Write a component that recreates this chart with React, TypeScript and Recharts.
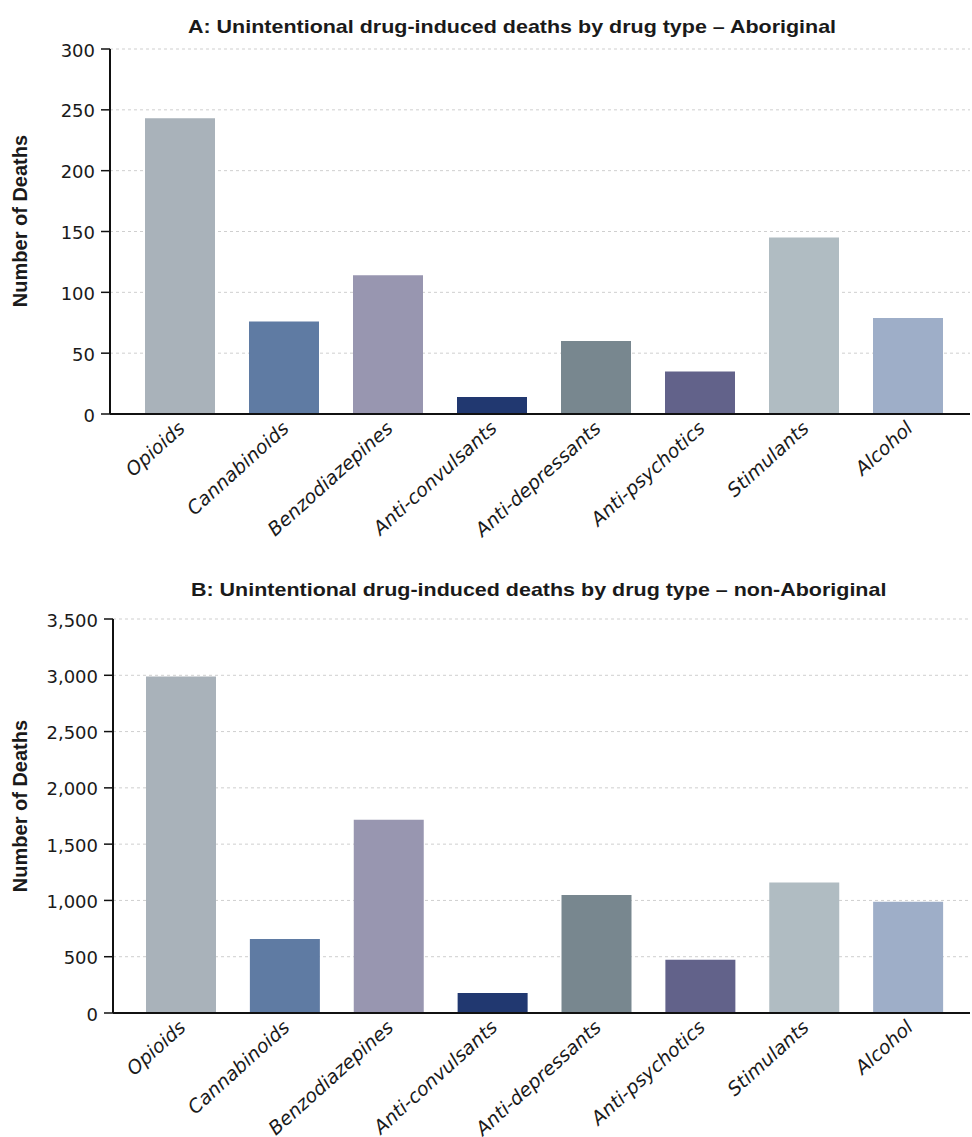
import { Bar, BarChart, CartesianGrid, Cell, XAxis, YAxis } from 'recharts'

const categories = [
  'Opioids',
  'Cannabinoids',
  'Benzodiazepines',
  'Anti-convulsants',
  'Anti-depressants',
  'Anti-psychotics',
  'Stimulants',
  'Alcohol',
]
const aboriginalDeaths = [243, 76, 114, 14, 60, 35, 145, 79]
const nonAboriginalDeaths = [2990, 657, 1717, 178, 1048, 474, 1160, 989]
const barColors = ['#a9b2ba', '#5f7ba3', '#9896b0', '#213870', '#78878f', '#62628a', '#b0bcc2', '#9eaec8']
const ticksA = [0, 50, 100, 150, 200, 250, 300]
const ticksB = [0, 500, 1000, 1500, 2000, 2500, 3000, 3500]

const titleA = 'A: Unintentional drug-induced deaths by drug type – Aboriginal'
const titleB = 'B: Unintentional drug-induced deaths by drug type – non-Aboriginal'

const tickFont = '"DejaVu Sans", sans-serif'
const boldFont = '"Liberation Sans", Arial, sans-serif'

function YTick({ x, y, payload }: any) {
  return (
    <text x={x} y={y} dy={1} textAnchor="end" dominantBaseline="central" fontFamily={tickFont} fontSize={18} fill="#1a1a1a">
      {Number(payload.value).toLocaleString('en-US')}
    </text>
  )
}

function XTick({ x, y, payload }: any) {
  return (
    <g transform={`translate(${x + 6},${y + 14})`}>
      <text textAnchor="end" transform="rotate(-42)" fontStyle="italic" fontFamily={tickFont} fontSize={19} fill="#1a1a1a">
        {payload.value}
      </text>
    </g>
  )
}

function AxisTitle({ cx, cy }: { cx: number; cy: number }) {
  return (
    <text
      x={cx}
      y={cy}
      transform={`rotate(-90 ${cx} ${cy})`}
      textAnchor="middle"
      dominantBaseline="central"
      fontFamily={boldFont}
      fontWeight="bold"
      fontSize={20}
      fill="#1a1a1a"
    >
      Number of Deaths
    </text>
  )
}

interface PanelProps {
  values: number[]
  ticks: number[]
  height: number
  top: number
  bottom: number
  axisWidth: number
  padLeft: number
  labelY: number
}

function Panel({ values, ticks, height, top, bottom, axisWidth, padLeft, labelY }: PanelProps) {
  const data = categories.map((name, i) => ({ name, value: values[i] }))
  return (
    <BarChart width={972} height={height} data={data} margin={{ top, right: 2, bottom, left: 0 }} style={{ overflow: 'visible' }}>
      <CartesianGrid vertical={false} stroke="#cfcfcf" strokeDasharray="3 3" />
      <XAxis
        dataKey="name"
        height={30}
        interval={0}
        tickLine={false}
        tickSize={0}
        axisLine={{ stroke: '#111', strokeWidth: 2 }}
        padding={{ left: padLeft, right: 10 }}
        tick={<XTick />}
      />
      <YAxis
        width={axisWidth}
        domain={[0, ticks[ticks.length - 1]]}
        ticks={ticks}
        interval={0}
        tickSize={9}
        tickMargin={6}
        axisLine={{ stroke: '#111', strokeWidth: 2 }}
        tickLine={{ stroke: '#111', strokeWidth: 1.5 }}
        tick={<YTick />}
        label={<AxisTitle cx={20} cy={labelY} />}
      />
      <Bar dataKey="value" barSize={70} isAnimationActive={false}>
        {data.map((d, i) => (
          <Cell key={d.name} fill={barColors[i]} />
        ))}
      </Bar>
    </BarChart>
  )
}

const titleStyle = {
  position: 'absolute' as const,
  whiteSpace: 'nowrap' as const,
  fontFamily: boldFont,
  fontWeight: 'bold' as const,
  fontSize: 19,
  lineHeight: '20px',
  color: '#1a1a1a',
  transform: 'scaleX(1.13)',
  transformOrigin: 'left center',
}

export default function App() {
  return (
    <div style={{ position: 'absolute', left: 0, top: 0, width: 972, height: 1137, background: '#fff', overflow: 'hidden' }}>
      <div style={{ position: 'absolute', left: 0, top: 0 }}>
        <Panel values={aboriginalDeaths} ticks={ticksA} height={560} top={49} bottom={116} axisWidth={110} padLeft={18} labelY={221} />
      </div>
      <div style={{ position: 'absolute', left: 0, top: 560 }}>
        <Panel values={nonAboriginalDeaths} ticks={ticksB} height={577} top={59} bottom={94} axisWidth={113} padLeft={16} labelY={246} />
      </div>
      <div style={{ ...titleStyle, left: 188, top: 17 }}>{titleA}</div>
      <div style={{ ...titleStyle, left: 191, top: 580 }}>{titleB}</div>
    </div>
  )
}
